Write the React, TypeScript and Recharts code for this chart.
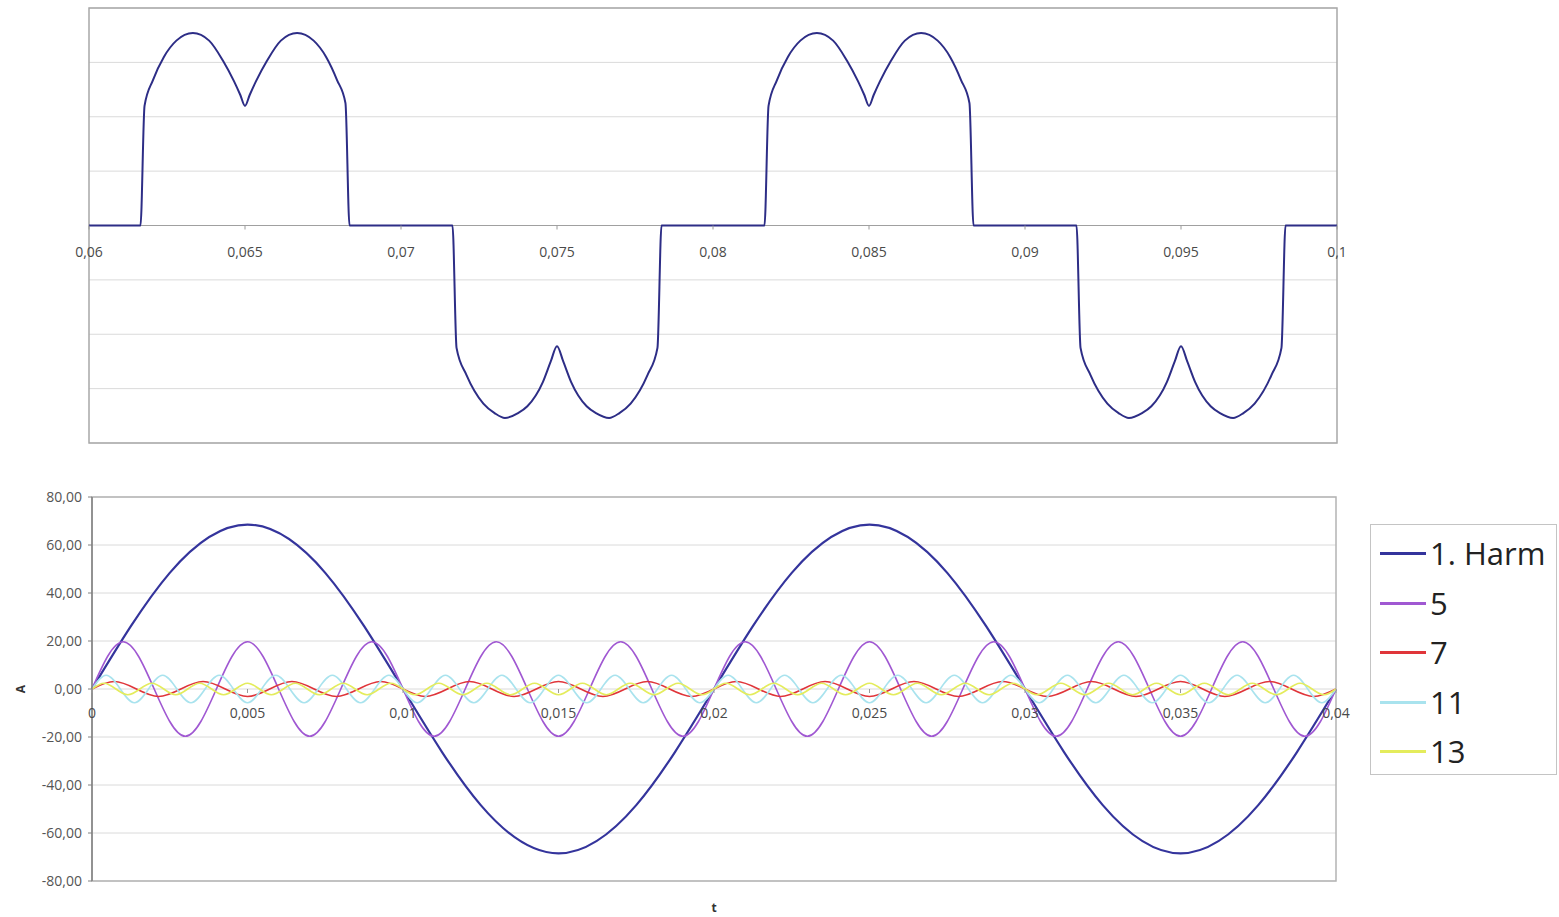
import React from 'react';
import {
  LineChart,
  Line,
  XAxis,
  YAxis,
  CartesianGrid,
  ReferenceLine,
  ReferenceArea,
  ReferenceDot,
  Legend,
} from 'recharts';

// upper panel: line current of the rectifier, 0.06 .. 0.1 s
const currentTimes = [
  0.06,
  0.06165, 0.06178, 0.06205, 0.0624, 0.0628, 0.06333, 0.06385, 0.0643, 0.06465, 0.06485, 0.065,
  0.06515, 0.06535, 0.0657, 0.06615, 0.06667, 0.0672, 0.0676, 0.06795, 0.06822, 0.06835,
  0.07165, 0.07178, 0.0721, 0.07264, 0.073, 0.07333, 0.07375, 0.07405, 0.07455, 0.0748, 0.075,
  0.0752, 0.07545, 0.07595, 0.07625, 0.07667, 0.077, 0.07736, 0.0779, 0.07822, 0.07835,
  0.08165, 0.08178, 0.08205, 0.0824, 0.0828, 0.08333, 0.08385, 0.0843, 0.08465, 0.08485, 0.085,
  0.08515, 0.08535, 0.0857, 0.08615, 0.08667, 0.0872, 0.0876, 0.08795, 0.08822, 0.08835,
  0.09165, 0.09178, 0.0921, 0.09264, 0.093, 0.09333, 0.09375, 0.09405, 0.09455, 0.0948, 0.095,
  0.0952, 0.09545, 0.09595, 0.09625, 0.09667, 0.097, 0.09736, 0.0979, 0.09822, 0.09835,
  0.1,
];
const currentValues = [
  0,
  0, 44, 53.5, 62, 68, 70.8, 68, 60.5, 53, 48, 44,
  48, 53, 60.5, 68, 70.8, 68, 62, 53.5, 45, 0,
  0, -45, -55, -65.5, -69, -70.8, -69, -66.5, -57.5, -50, -44.4,
  -50, -57.5, -66.5, -69, -70.8, -69, -65.5, -55, -45, 0,
  0, 44, 53.5, 62, 68, 70.8, 68, 60.5, 53, 48, 44,
  48, 53, 60.5, 68, 70.8, 68, 62, 53.5, 45, 0,
  0, -45, -55, -65.5, -69, -70.8, -69, -66.5, -57.5, -50, -44.4,
  -50, -57.5, -66.5, -69, -70.8, -69, -65.5, -55, -45, 0,
  0,
];
const topTicks = [0.06, 0.065, 0.07, 0.075, 0.08, 0.085, 0.09, 0.095, 0.1];
const topTickLabels = ['0,06', '0,065', '0,07', '0,075', '0,08', '0,085', '0,09', '0,095', '0,1'];

// lower panel: harmonics, sampled every eighth (fundamental) / quarter period
const h1Step = 0.0025;
const h1Values = [0, 48.4, 68.5, 48.4, 0, -48.4, -68.5, -48.4, 0, 48.4, 68.5, 48.4, 0, -48.4, -68.5, -48.4, 0];
const h5Peaks = [
  19.7, -19.7, 19.7, -19.7, 19.7, -19.7, 19.7, -19.7, 19.7, -19.7,
  19.7, -19.7, 19.7, -19.7, 19.7, -19.7, 19.7, -19.7, 19.7, -19.7,
];
const h7Peaks = [
  3.1, -3.1, 3.1, -3.1, 3.1, -3.1, 3.1, -3.1, 3.1, -3.1, 3.1, -3.1, 3.1, -3.1,
  3.1, -3.1, 3.1, -3.1, 3.1, -3.1, 3.1, -3.1, 3.1, -3.1, 3.1, -3.1, 3.1, -3.1,
];
const h11Peaks = [
  5.7, -5.7, 5.7, -5.7, 5.7, -5.7, 5.7, -5.7, 5.7, -5.7, 5.7, -5.7, 5.7, -5.7, 5.7, -5.7,
  5.7, -5.7, 5.7, -5.7, 5.7, -5.7, 5.7, -5.7, 5.7, -5.7, 5.7, -5.7, 5.7, -5.7, 5.7, -5.7,
  5.7, -5.7, 5.7, -5.7, 5.7, -5.7, 5.7, -5.7, 5.7, -5.7, 5.7, -5.7,
];
const h13Peaks = [
  2.4, -2.4, 2.4, -2.4, 2.4, -2.4, 2.4, -2.4, 2.4, -2.4, 2.4, -2.4, 2.4, -2.4, 2.4, -2.4,
  2.4, -2.4, 2.4, -2.4, 2.4, -2.4, 2.4, -2.4, 2.4, -2.4, 2.4, -2.4, 2.4, -2.4, 2.4, -2.4,
  2.4, -2.4, 2.4, -2.4, 2.4, -2.4, 2.4, -2.4, 2.4, -2.4, 2.4, -2.4, 2.4, -2.4, 2.4, -2.4,
  2.4, -2.4, 2.4, -2.4,
];
const seriesNames = ['1. Harm', '5', '7', '11', '13'];
const seriesOrders = [1, 5, 7, 11, 13];
const seriesColors = ['#34349c', '#a058d2', '#e0353a', '#a9e3ee', '#e4ec5c'];
const ampTicks = [-80, -60, -40, -20, 0, 20, 40, 60, 80];
const bottomTicks = [0, 0.005, 0.01, 0.015, 0.02, 0.025, 0.03, 0.035, 0.04];
const bottomTickLabels = ['0', '0,005', '0,01', '0,015', '0,02', '0,025', '0,03', '0,035', '0,04'];

const currentData = currentTimes.map((t, i) => ({ t, v: currentValues[i] }));

// zero crossings between the read peaks, quarter period apart
const fromPeaks = (peaks: number[], order: number) => {
  const q = 0.005 / order;
  const out = [{ t: 0, v: 0 }];
  peaks.forEach((p, i) => {
    out.push({ t: (2 * i + 1) * q, v: p });
    out.push({ t: (2 * i + 2) * q, v: 0 });
  });
  return out;
};

const harmData = [
  h1Values.map((v, i) => ({ t: i * h1Step, v })),
  fromPeaks(h5Peaks, seriesOrders[1]),
  fromPeaks(h7Peaks, seriesOrders[2]),
  fromPeaks(h11Peaks, seriesOrders[3]),
  fromPeaks(h13Peaks, seriesOrders[4]),
];

const FONT = '"Open Sans", "DejaVu Sans", sans-serif';

const tickShape = (label: string, dy: number) => (p: any) => (
  <g>
    <line x1={p.cx} x2={p.cx} y1={p.cy} y2={p.cy + 4} stroke="#9a9a9a" />
    <text x={p.cx} y={p.cy + dy} textAnchor="middle" fontSize={14} fill="#4a4a4a" fontFamily={FONT}>
      {label}
    </text>
  </g>
);

// legend drawn in series order (the default sorter would reorder it)
const renderLegend = () => (
  <div
    style={{
      width: 187,
      height: 251,
      boxSizing: 'border-box',
      border: '1px solid #c4c4c4',
      background: '#fff',
      padding: '4px 0 0 9px',
    }}
  >
    {seriesNames.map((name, i) => (
      <div key={name} style={{ display: 'flex', alignItems: 'center', height: 49.5 }}>
        <span style={{ width: 46, borderTop: `3px solid ${seriesColors[i]}`, display: 'inline-block' }} />
        <span style={{ fontSize: 31, marginLeft: 4, color: '#222', fontFamily: FONT, lineHeight: '31px' }}>
          {name}
        </span>
      </div>
    ))}
  </div>
);

export default function App() {
  return (
    <div style={{ position: 'absolute', left: 0, top: 0, width: 1559, height: 917, background: '#fff' }}>
      {/* upper panel */}
      <div style={{ position: 'absolute', left: 0, top: 0 }}>
        <LineChart width={1559} height={460} margin={{ top: 8, right: 222, bottom: 17, left: 89 }}>
          <CartesianGrid vertical={false} stroke="#dadada" />
          <XAxis dataKey="t" type="number" domain={[0.06, 0.1]} ticks={topTicks} hide />
          <YAxis type="number" domain={[-80, 80]} ticks={ampTicks} hide />
          <ReferenceArea x1={0.06} x2={0.1} y1={-80} y2={80} fill="none" stroke="#a8a8a8" strokeWidth={1.5} />
          <ReferenceLine y={0} stroke="#a0a0a0" />
          {topTicks.map((t, i) => (
            <ReferenceDot key={t} x={t} y={0} shape={tickShape(topTickLabels[i], 31)} ifOverflow="visible" />
          ))}
          <Line
            data={currentData}
            dataKey="v"
            type="monotone"
            stroke="#2d2d86"
            strokeWidth={2}
            dot={false}
            isAnimationActive={false}
          />
        </LineChart>
      </div>

      {/* lower panel */}
      <div style={{ position: 'absolute', left: 0, top: 480 }}>
        <LineChart width={1559} height={437} margin={{ top: 17, right: 223, bottom: 6, left: 30 }}>
          <CartesianGrid vertical={false} stroke="#dadada" />
          <XAxis
            dataKey="t"
            type="number"
            domain={[0, 0.04]}
            ticks={bottomTicks}
            tick={false}
            tickLine={false}
            axisLine={false}
            height={30}
            label={{
              content: (p: any) => (
                <text
                  x={p.viewBox.x + p.viewBox.width / 2}
                  y={p.viewBox.y + 31}
                  textAnchor="middle"
                  fontSize={12}
                  fontWeight="bold"
                  fill="#333"
                  fontFamily={FONT}
                >
                  t
                </text>
              ),
            }}
          />
          <YAxis
            type="number"
            domain={[-80, 80]}
            ticks={ampTicks}
            width={62}
            tickSize={4}
            tickMargin={6}
            tickLine={{ stroke: '#808080' }}
            axisLine={{ stroke: '#808080', strokeWidth: 1.5 }}
            tick={{ fontSize: 14, fill: '#555', fontFamily: FONT }}
            tickFormatter={(v: number) => v.toFixed(2).replace('.', ',')}
            label={{
              content: (p: any) => {
                const x = p.viewBox.x - 10;
                const y = p.viewBox.y + p.viewBox.height / 2;
                return (
                  <text
                    x={x}
                    y={y}
                    transform={`rotate(-90 ${x} ${y})`}
                    textAnchor="middle"
                    dominantBaseline="central"
                    fontSize={12}
                    fontWeight="bold"
                    fill="#333"
                    fontFamily={FONT}
                  >
                    A
                  </text>
                );
              },
            }}
          />
          <ReferenceArea x1={0} x2={0.04} y1={-80} y2={80} fill="none" stroke="#b4b4b4" strokeWidth={1.5} />
          {bottomTicks.map((t, i) => (
            <ReferenceDot key={t} x={t} y={0} shape={tickShape(bottomTickLabels[i], 29)} ifOverflow="visible" />
          ))}
          {harmData.map((d, i) => (
            <Line
              key={seriesNames[i]}
              name={seriesNames[i]}
              data={d}
              dataKey="v"
              type="natural"
              stroke={seriesColors[i]}
              strokeWidth={i === 0 ? 2.2 : 1.6}
              dot={false}
              isAnimationActive={false}
            />
          ))}
          <Legend
            layout="vertical"
            align="center"
            verticalAlign="middle"
            content={renderLegend}
            wrapperStyle={{ left: 1370, top: 44, width: 187 }}
          />
        </LineChart>
      </div>
    </div>
  );
}
